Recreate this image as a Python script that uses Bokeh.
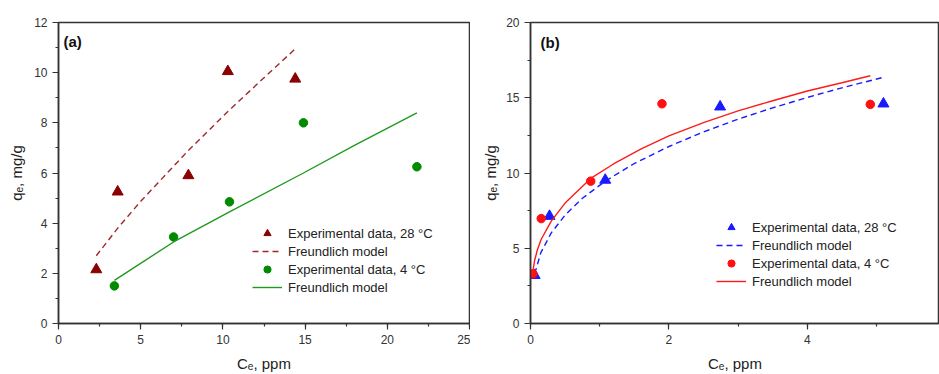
from bokeh.plotting import figure
from bokeh.models import Range1d, Legend, LegendItem, Label, SingleIntervalTicker
from bokeh.layouts import row
from bokeh.embed import file_html
from bokeh.resources import INLINE

# ---------------- Panel (a) data ----------------
a_exp28_x = [2.3, 3.6, 7.9, 10.3, 14.4]
a_exp28_y = [2.15, 5.25, 5.9, 10.05, 9.75]
a_fit28_x = [2.3, 3.6, 5.0, 7.9, 10.3, 12.5, 14.4]
a_fit28_y = [2.7, 3.8, 4.87, 6.9, 8.45, 9.8, 10.95]

a_exp4_x = [3.4, 7.0, 10.4, 14.9, 21.8]
a_exp4_y = [1.5, 3.45, 4.85, 8.0, 6.25]
a_fit4_x = [3.4, 7.0, 10.4, 14.9, 18.0, 21.8]
a_fit4_y = [1.72, 3.25, 4.45, 6.0, 7.1, 8.4]

# ---------------- Panel (b) data ----------------
b_exp28_x = [0.06, 0.275, 1.08, 2.74, 5.10]
b_exp28_y = [3.2, 7.13, 9.53, 14.4, 14.6]
b_fit28_x = [0.06, 0.15, 0.3, 0.5, 0.75, 1.08, 1.5, 2.0, 2.5, 3.0, 3.5, 4.0, 4.5, 5.11]
b_fit28_y = [3.3, 4.71, 6.02, 7.21, 8.32, 9.46, 10.63, 11.76, 12.73, 13.58, 14.33, 15.02, 15.66, 16.37]

b_exp4_x = [0.035, 0.155, 0.87, 1.90, 4.91]
b_exp4_y = [3.3, 6.97, 9.46, 14.6, 14.56]
b_fit4_x = [0.025, 0.06, 0.1, 0.155, 0.3, 0.5, 0.87, 1.2, 1.6, 2.0, 2.5, 3.0, 3.5, 4.0, 4.5, 4.91]
b_fit4_y = [3.2, 4.2, 4.9, 5.6, 6.8, 8.0, 9.64, 10.6, 11.6, 12.47, 13.35, 14.13, 14.8, 15.45, 16.0, 16.46]

leg_labels = ["Experimental data, 28 \u00b0C", "Freundlich model",
              "Experimental data, 4 \u00b0C", "Freundlich model"]

FONT = "Liberation Sans"
AXC = "#333333"


def style(p, xint, yint):
    p.xgrid.visible = False
    p.ygrid.visible = False
    p.xaxis.ticker = SingleIntervalTicker(interval=xint, num_minor_ticks=2)
    p.yaxis.ticker = SingleIntervalTicker(interval=yint, num_minor_ticks=2)
    for ax in (p.xaxis[0], p.yaxis[0]):
        ax.axis_line_color = AXC
        ax.axis_line_width = 1.5
        ax.major_tick_line_color = AXC
        ax.minor_tick_line_color = AXC
        ax.major_tick_line_width = 1.2
        ax.minor_tick_line_width = 1.2
        ax.major_tick_out = 6
        ax.major_tick_in = 0
        ax.minor_tick_out = 3
        ax.minor_tick_in = 0
        ax.major_label_text_font = FONT
        ax.major_label_text_font_size = "12px"
        ax.major_label_text_color = "#333333"
        ax.major_label_standoff = 5
        ax.axis_label_text_font = FONT
        ax.axis_label_text_font_size = "15px"
        ax.axis_label_text_font_style = "normal"
        ax.axis_label_text_color = "#222222"
    p.outline_line_color = AXC
    p.outline_line_width = 1.5
    p.outline_line_alpha = 1.0
    p.background_fill_color = "white"
    p.border_fill_color = "white"


def add_legend(p, renderers, loc):
    items = [LegendItem(label=lab, renderers=[r]) for lab, r in zip(leg_labels, renderers)]
    lg = Legend(items=items, location=loc, padding=0, margin=0, spacing=0,
                glyph_width=30, glyph_height=18, label_height=18, label_standoff=6,
                label_text_font=FONT, label_text_font_size="13px",
                label_text_color="#222222", label_text_baseline="middle",
                background_fill_alpha=0, border_line_alpha=0)
    p.add_layout(lg)


# ---------------- Figure (a) ----------------
pa = figure(width=470, height=374, x_range=Range1d(0, 25), y_range=Range1d(0, 12),
            output_backend="svg", toolbar_location=None,
            min_border_left=58, min_border_right=1, min_border_top=20, min_border_bottom=48)
style(pa, 5, 2)
pa.xaxis.axis_label = "C\u2091, ppm"
pa.yaxis.axis_label = "q\u2091, mg/g"
pa.xaxis.axis_label_standoff = 8
pa.yaxis.axis_label_standoff = 6

ra1 = pa.scatter(a_exp28_x, a_exp28_y, marker="triangle", size=11,
                 fill_color="#8b0000", line_color="#8b0000")
ra2 = pa.line(a_fit28_x, a_fit28_y, line_color="#a0282d", line_width=1.4, line_dash="6 4")
ra3 = pa.scatter(a_exp4_x, a_exp4_y, marker="circle", size=8.5,
                 fill_color="#008a00", line_color="#008a00")
ra4 = pa.line(a_fit4_x, a_fit4_y, line_color="#1f9a1f", line_width=1.4)
add_legend(pa, [ra1, ra2, ra3, ra4], (194, 27))
pa.add_layout(Label(x=0.3, y=11.25, text="(a)", text_font=FONT, text_font_size="15px",
                    text_font_style="bold", text_color="#111111", text_baseline="middle"))

# ---------------- Figure (b) ----------------
pb = figure(width=469, height=374, x_range=Range1d(0, 5.91), y_range=Range1d(0, 20),
            output_backend="svg", toolbar_location=None,
            min_border_left=60, min_border_right=0, min_border_top=22, min_border_bottom=47)
style(pb, 2, 5)
pb.xaxis.axis_label = "C\u2091, ppm"
pb.yaxis.axis_label = "q\u2091, mg/g"
pb.xaxis.axis_label_standoff = 8
pb.yaxis.axis_label_standoff = 4

rb1 = pb.scatter(b_exp28_x, b_exp28_y, marker="triangle", size=11,
                 fill_color="#1a1aff", line_color="#1a1aff")
rb2 = pb.line(b_fit28_x, b_fit28_y, line_color="#1a1aff", line_width=1.4, line_dash="6 4")
rb3 = pb.scatter(b_exp4_x, b_exp4_y, marker="circle", size=8.5,
                 fill_color="#ff1010", line_color="#ff1010")
rb4 = pb.line(b_fit4_x, b_fit4_y, line_color="#ff1a1a", line_width=1.4)
add_legend(pb, [rb1, rb2, rb3, rb4], (186, 33))
pb.add_layout(Label(x=0.145, y=18.7, text="(b)", text_font=FONT, text_font_size="15px",
                    text_font_style="bold", text_color="#111111", text_baseline="middle"))

layout = row(pa, pb, spacing=0)
open("out.html", "w").write(file_html(layout, INLINE))
